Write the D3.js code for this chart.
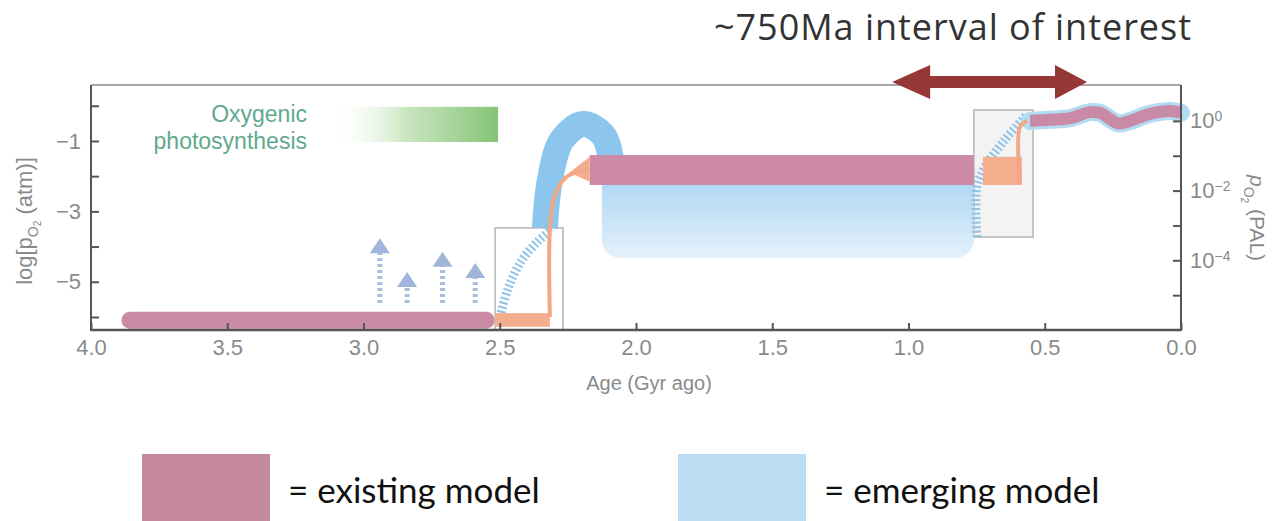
<!DOCTYPE html>
<html>
<head>
<meta charset="utf-8">
<script src="https://cdn.jsdelivr.net/npm/d3@7"></script>
<style>
html, body { margin: 0; padding: 0; background: #fff; }
svg { display: block; }
</style>
</head>
<body>
<div id="container"></div>
<script>
const width = 1275, height = 521;
const plot = { left: 91, right: 1181, top: 85, bottom: 330 };

// axis ticks
const xTicks = [4.0, 3.5, 3.0, 2.5, 2.0, 1.5, 1.0, 0.5, 0.0];
const leftMajor = [-1, -3, -5];
const leftMinor = [0, -2, -4, -6];
const rightMajor = [0, -2, -4];
const rightMinor = [-1, -3, -5];

// existing model (pink) -- [Gyr ago, log pO2 atm]
const pinkArchean = [[3.857, -6.09], [2.55, -6.09]];
const pinkProterozoic = [2.17, 0.76, -1.40, -2.25];   // x0, x1, top, bottom
const pinkModern = [[0.554, -0.43], [0.481, -0.40], [0.407, -0.35], [0.334, -0.18], [0.297, -0.20],
                    [0.231, -0.50], [0.187, -0.43], [0.114, -0.23], [0.040, -0.15], [0.0, -0.20]];

// transitions (orange)
const orangeGOE = [2.517, 2.316, -5.89, -6.28];
const orangeGOELine = [[2.316, -6.0], [2.316, -3.5], [2.30, -2.6], [2.26, -2.05], [2.21, -1.87], [2.17, -1.82]];
const orangeWedge = [[2.245, -1.9], [2.17, -1.45], [2.17, -2.15]];
const orangeNOE = [0.727, 0.584, -1.45, -2.25];
const orangeNOELine = [[0.591, -2.2], [0.591, -0.6], [0.565, -0.43]];

// emerging model (blue)
const blueArch = [[2.334, -3.47], [2.316, -2.11], [2.272, -0.97], [2.195, -0.52], [2.121, -0.83],
                  [2.09, -1.6], [2.086, -2.1]];
const blueFill = [2.125, 0.76, -1.5, -4.32];
const blueHatchGOE = [[2.499, -6.0], [2.47, -5.2], [2.42, -4.4], [2.36, -3.85], [2.31, -3.5]];
const blueHatchNOE = [[0.749, -3.73], [0.749, -2.3], [0.72, -1.75], [0.65, -1.0], [0.565, -0.25]];

// boxes around the two oxygenation events: x0, x1, top, bottom
const boxes = [[2.517, 2.268, -3.47, -6.37], [0.76, 0.543, -0.12, -3.73]];

// whiffs of oxygen: [Gyr, tip], base value
const whiffs = [[2.94, -3.76], [2.84, -4.72], [2.71, -4.15], [2.59, -4.47]];
const whiffBase = -5.6;

// oxygenic photosynthesis bar
const photoBar = [3.12, 2.506, -0.03, -1.03];

// interval of interest arrow (Gyr)
const interval = [1.06, 0.345];

const x = d3.scaleLinear().domain([4, 0]).range([plot.left, plot.right]);
const y = d3.scaleLinear().domain([-6.37, 0.59]).range([plot.bottom, plot.top]);
const yR = d3.scaleLinear().domain([-6.0, 1.03]).range([plot.bottom, plot.top]);

const svg = d3.select("#container").append("svg")
    .attr("width", width)
    .attr("height", height)
    .style("font-family", "'Liberation Sans', Arial, sans-serif");

const defs = svg.append("defs");
const gGreen = defs.append("linearGradient").attr("id", "green").attr("x1", 0).attr("x2", 1).attr("y1", 0).attr("y2", 0);
gGreen.append("stop").attr("offset", "0%").attr("stop-color", "#ffffff").attr("stop-opacity", 0);
gGreen.append("stop").attr("offset", "45%").attr("stop-color", "#c9e6c0");
gGreen.append("stop").attr("offset", "100%").attr("stop-color", "#86c476");
const gBlue = defs.append("linearGradient").attr("id", "bluefill").attr("x1", 0).attr("x2", 0).attr("y1", 0).attr("y2", 1);
gBlue.append("stop").attr("offset", "0%").attr("stop-color", "#9fcff0");
gBlue.append("stop").attr("offset", "100%").attr("stop-color", "#e4f1fb");

const line = d3.line().x(d => x(d[0])).y(d => y(d[1]));
const smooth = d3.line().x(d => x(d[0])).y(d => y(d[1])).curve(d3.curveCatmullRom.alpha(0.5));

function rect(g, r) {
    return g.append("rect")
        .attr("x", x(r[0])).attr("width", x(r[1]) - x(r[0]))
        .attr("y", y(r[2])).attr("height", y(r[3]) - y(r[2]));
}

// boxes
boxes.forEach((b, i) => {
    rect(svg, b)
        .attr("fill", i == 1 ? "#f0f0f0" : "none")
        .attr("fill-opacity", 0.8)
        .attr("stroke", "#b4b4b4")
        .attr("stroke-width", 1.5);
});

// photosynthesis bar
rect(svg, photoBar).attr("fill", "url(#green)");
svg.append("text")
    .attr("x", 307).attr("y", y(photoBar[2]) + 15)
    .attr("text-anchor", "end")
    .attr("fill", "#5fa98d")
    .style("font-size", "23px")
    .selectAll("tspan")
    .data(["Oxygenic", "photosynthesis"])
    .join("tspan")
    .attr("x", 307)
    .attr("dy", (d, i) => i ? 27 : 0)
    .text(d => d);

// emerging model
rect(svg, blueFill).attr("fill", "url(#bluefill)").attr("rx", 18);
svg.append("path").datum(blueArch)
    .attr("d", smooth).attr("fill", "none")
    .attr("stroke", "#8dc6ec").attr("stroke-width", 26);
[blueHatchGOE, blueHatchNOE].forEach(h => {
    svg.append("path").datum(h)
        .attr("d", smooth).attr("fill", "none")
        .attr("stroke", "#8fc3e8").attr("stroke-width", 9)
        .attr("stroke-dasharray", "2,2.5");
});
svg.append("path").datum(pinkModern)
    .attr("d", smooth).attr("fill", "none")
    .attr("stroke", "#b3dbf1").attr("stroke-width", 18).attr("stroke-linecap", "round");

// existing model
svg.append("path").datum(pinkArchean)
    .attr("d", line).attr("fill", "none")
    .attr("stroke", "#c98aa3").attr("stroke-width", 17).attr("stroke-linecap", "round");
rect(svg, pinkProterozoic).attr("fill", "#cc8aa6");
svg.append("path").datum(pinkModern)
    .attr("d", smooth).attr("fill", "none")
    .attr("stroke", "#c98aa8").attr("stroke-width", 12);

// transitions
rect(svg, orangeGOE).attr("fill", "#f4ae8e");
rect(svg, orangeNOE).attr("fill", "#f4ae8e");
svg.append("path").datum(orangeWedge)
    .attr("d", line).attr("fill", "#f4ae8e");
[orangeGOELine, orangeNOELine].forEach(o => {
    svg.append("path").datum(o)
        .attr("d", smooth).attr("fill", "none")
        .attr("stroke", "#f2a887").attr("stroke-width", 4);
});

// whiff arrows
whiffs.forEach(w => {
    svg.append("line")
        .attr("x1", x(w[0])).attr("x2", x(w[0]))
        .attr("y1", y(whiffBase)).attr("y2", y(w[1]) + 12)
        .attr("stroke", "#a9bedd").attr("stroke-width", 5)
        .attr("stroke-dasharray", "3,3");
    svg.append("path")
        .attr("d", `M${x(w[0]) - 10},${y(w[1]) + 15}L${x(w[0])},${y(w[1])}L${x(w[0]) + 10},${y(w[1]) + 15}Z`)
        .attr("fill", "#9fb6da");
});

// axes
const axisColor = "#555", labelColor = "#8a8a8a";
const xAxis = svg.append("g")
    .attr("transform", `translate(0,${plot.bottom})`)
    .call(d3.axisBottom(x).tickValues(xTicks).tickFormat(d3.format(".1f"))
        .tickSizeInner(-7).tickSizeOuter(0).tickPadding(9));
const yAxisL = svg.append("g")
    .attr("transform", `translate(${plot.left},0)`)
    .call(d3.axisLeft(y).tickValues(leftMajor).tickFormat(d => "\u2212" + Math.abs(d))
        .tickSizeInner(-8).tickSizeOuter(0).tickPadding(10));
const yAxisLm = svg.append("g")
    .attr("transform", `translate(${plot.left},0)`)
    .call(d3.axisLeft(y).tickValues(leftMinor).tickFormat("").tickSizeInner(-8).tickSizeOuter(0));
const yAxisR = svg.append("g")
    .attr("transform", `translate(${plot.right},0)`)
    .call(d3.axisRight(yR).tickValues(rightMajor).tickFormat("")
        .tickSizeInner(-8).tickSizeOuter(0).tickPadding(9));
const yAxisRm = svg.append("g")
    .attr("transform", `translate(${plot.right},0)`)
    .call(d3.axisRight(yR).tickValues(rightMinor).tickFormat("").tickSizeInner(-8).tickSizeOuter(0));

[xAxis, yAxisL, yAxisLm, yAxisR, yAxisRm].forEach(a => {
    a.select(".domain").remove();
    a.selectAll("line").attr("stroke", axisColor).attr("stroke-width", 2);
    a.selectAll("text").attr("fill", labelColor).style("font-size", "22px").style("font-family", null);
});

// right axis labels with superscripts
yAxisR.selectAll(".tick text").each(function (d) {
    const t = d3.select(this).attr("x", 9);
    t.append("tspan").text("10");
    t.append("tspan").attr("dy", "-0.5em").style("font-size", "14px")
        .text(d == 0 ? "0" : "\u2212" + Math.abs(d));
});

// frame
svg.append("line").attr("x1", plot.left).attr("x2", plot.right).attr("y1", plot.top).attr("y2", plot.top)
    .attr("stroke", "#888").attr("stroke-width", 1.5);
svg.append("line").attr("x1", plot.left).attr("x2", plot.right).attr("y1", plot.bottom).attr("y2", plot.bottom)
    .attr("stroke", axisColor).attr("stroke-width", 2.5);
[plot.left, plot.right].forEach(px => {
    svg.append("line").attr("x1", px).attr("x2", px).attr("y1", plot.top).attr("y2", plot.bottom + 1)
        .attr("stroke", axisColor).attr("stroke-width", 2);
});

// axis titles
svg.append("text").attr("x", 649).attr("y", 390).attr("text-anchor", "middle")
    .attr("fill", labelColor).style("font-size", "20px").text("Age (Gyr ago)");
const lt = svg.append("text").attr("transform", "translate(32,221) rotate(-90)")
    .attr("text-anchor", "middle").attr("fill", labelColor).style("font-size", "22px");
lt.append("tspan").text("log[p");
lt.append("tspan").attr("dy", 6).style("font-size", "14px").text("O");
lt.append("tspan").attr("dy", 3).style("font-size", "10px").text("2");
lt.append("tspan").attr("dy", -9).text(" (atm)]");
const rt = svg.append("text").attr("transform", "translate(1250,218) rotate(90)")
    .attr("text-anchor", "middle").attr("fill", labelColor).style("font-size", "21px");
rt.append("tspan").style("font-style", "italic").text("p");
rt.append("tspan").attr("dy", 6).style("font-size", "14px").text("O");
rt.append("tspan").attr("dy", 3).style("font-size", "10px").text("2");
rt.append("tspan").attr("dy", -9).text(" (PAL)");

// interval of interest
const ax0 = x(interval[0]), ax1 = x(interval[1]), ay = 82;
svg.append("path")
    .attr("d", `M${ax0},${ay}L${ax0 + 38},${ay - 17}L${ax0 + 38},${ay - 6}L${ax1 - 32},${ay - 6}` +
               `L${ax1 - 32},${ay - 17}L${ax1},${ay}L${ax1 - 32},${ay + 17}L${ax1 - 32},${ay + 6}` +
               `L${ax0 + 38},${ay + 6}L${ax0 + 38},${ay + 17}Z`)
    .attr("fill", "#953735");
svg.append("text").attr("x", 714).attr("y", 40)
    .attr("fill", "#333").style("font-family", "'Open Sans', sans-serif").style("font-size", "36px")
    .attr("textLength", 477).attr("lengthAdjust", "spacing")
    .text("~750Ma interval of interest");

// legend
const legend = [["= existing model", "#c4899f", 142], ["= emerging model", "#bcdcf3", 678]];
legend.forEach(l => {
    svg.append("rect").attr("x", l[2]).attr("y", 454).attr("width", 128).attr("height", 67).attr("fill", l[1]);
    svg.append("text").attr("x", l[2] + 146).attr("y", 503)
        .attr("fill", "#111").style("font-family", "Lato, sans-serif").style("font-size", "35px")
        .text(l[0]);
});
</script>
</body>
</html>
